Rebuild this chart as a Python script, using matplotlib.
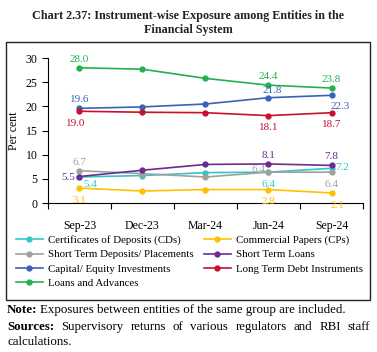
import matplotlib.pyplot as plt
import matplotlib.patches as mpatches
import numpy as np

plt.rcParams['font.family'] = ['Liberation Serif', 'DejaVu Serif']

quarters = ['Sep-23', 'Dec-23', 'Mar-24', 'Jun-24', 'Sep-24']

cds = [5.4, 5.7, 6.3, 6.4, 7.2]
cps = [3.1, 2.5, 2.8, 2.8, 2.1]
st_deposits = [6.7, 6.1, 5.4, 6.4, 6.4]
st_loans = [5.5, 6.8, 8.0, 8.1, 7.8]
capital_equity = [19.6, 19.9, 20.5, 21.8, 22.3]
lt_debt = [19.0, 18.8, 18.7, 18.1, 18.7]
loans_adv = [28.0, 27.7, 25.8, 24.4, 23.8]

names = ['Certificates of Deposits (CDs)', 'Commercial Papers (CPs)',
         'Short Term Deposits/ Placements', 'Short Term Loans',
         'Capital/ Equity Investments', 'Long Term Debt Instruments',
         'Loans and Advances']
series = [cds, cps, st_deposits, st_loans, capital_equity, lt_debt, loans_adv]
colors = ['#33c6c8', '#ffc000', '#a0a0a0', '#6a2c91', '#3a62b5', '#c8102e', '#22b14c']

fig = plt.figure(figsize=(3.77, 3.52), dpi=100)
ax = fig.add_axes([0.127, 0.423, 0.836, 0.412])

x = np.arange(len(quarters))
lines = []
for vals, name, c in zip(series, names, colors):
    ln, = ax.plot(x, vals, color=c, lw=1.2, marker='o', ms=3.5, label=name)
    lines.append(ln)

# data labels: (series, point, dx, dy, ha), offsets in points
labs = [
    (6, 0, 0, 3, 'center'), (6, 3, 0, 3, 'center'), (6, 4, 0, 3, 'center'),
    (4, 0, 0, 3, 'center'), (4, 3, 3, 2, 'center'), (4, 4, 6, -11, 'center'),
    (5, 0, -3, -12, 'center'), (5, 3, 0, -12, 'center'), (5, 4, 0, -12, 'center'),
    (3, 0, -3, -4, 'right'), (3, 3, 0, 3, 'center'), (3, 4, 0, 3, 'center'),
    (0, 0, 3, -9, 'left'), (0, 3, 0, -12, 'center'), (0, 4, 3, -3, 'left'),
    (2, 0, 0, 3, 'center'), (2, 3, -2, -1, 'right'), (2, 4, 0, -12, 'center'),
    (1, 0, 0, -12, 'center'), (1, 3, 0, -12, 'center'), (1, 4, 4, -12, 'center'),
]
for si, pi, dx, dy, ha in labs:
    ax.annotate(f'{series[si][pi]:.1f}', (x[pi], series[si][pi]),
                xytext=(dx, dy), textcoords='offset points', ha=ha,
                va='bottom', fontsize=8, color=colors[si])

ax.set_xlim(-0.5, 4.5)
ax.set_ylim(0, 30)
ax.set_yticks(range(0, 31, 5))
ax.set_xticks(x)
ax.set_xticklabels(quarters, fontsize=8.5)
ax.set_xticks(np.arange(-0.5, 5, 1), minor=True)
ax.tick_params(axis='x', which='major', length=0, pad=12)
ax.tick_params(axis='x', which='minor', length=4, width=0.8)
ax.tick_params(axis='y', labelsize=8.5, length=4, width=0.8)
ax.spines['top'].set_visible(False)
ax.spines['right'].set_visible(False)
ax.set_ylabel('Per cent', fontsize=8.5, labelpad=4)

order = [0, 2, 4, 6, 1, 3, 5]
fig.legend([lines[i] for i in order], [names[i] for i in order], ncol=2,
           loc='upper left', bbox_to_anchor=(0.03, 0.345), frameon=False,
           fontsize=7.8, handlelength=2.5, columnspacing=0.9,
           labelspacing=0.45, handletextpad=0.5, borderaxespad=0)

fig.patches.append(mpatches.Rectangle((0.017, 1 - 300 / 352), 0.965, 258 / 352,
                                      transform=fig.transFigure, fill=False,
                                      lw=1.0, ec='#222222'))

fig.text(0.5, 0.955, 'Chart 2.37: Instrument-wise Exposure among Entities in the',
         ha='center', va='center', fontsize=8.7, fontweight='bold', color='#222222')
fig.text(0.5, 0.915, 'Financial System', ha='center', va='center',
         fontsize=8.7, fontweight='bold', color='#222222')

# footnotes
fs = 9.3
left_px, right_px = 7, 370
r = fig.canvas.get_renderer()
t = fig.text(left_px / 377, 1 - 310 / 352, 'Note:', fontsize=fs, fontweight='bold', va='center')
w = t.get_window_extent(r).width
fig.text((left_px + w + 3) / 377, 1 - 310 / 352,
         'Exposures between entities of the same group are included.',
         fontsize=fs, va='center')

# justified "Sources" line
words = ['Supervisory', 'returns', 'of', 'various', 'regulators', 'and', 'RBI', 'staff']
ys = 1 - 327 / 352
tb = fig.text(left_px / 377, ys, 'Sources:', fontsize=fs, fontweight='bold', va='center')
items = [tb] + [fig.text(0, ys, wd, fontsize=fs, va='center') for wd in words]
widths = [it.get_window_extent(r).width for it in items]
gap = (right_px - left_px - sum(widths)) / (len(items) - 1)
xx = left_px
for it, wd in zip(items, widths):
    it.set_x(xx / 377)
    xx += wd + gap
fig.text(left_px / 377, 1 - 342 / 352, 'calculations.', fontsize=fs, va='center')

fig.savefig('out.png', dpi=100)
